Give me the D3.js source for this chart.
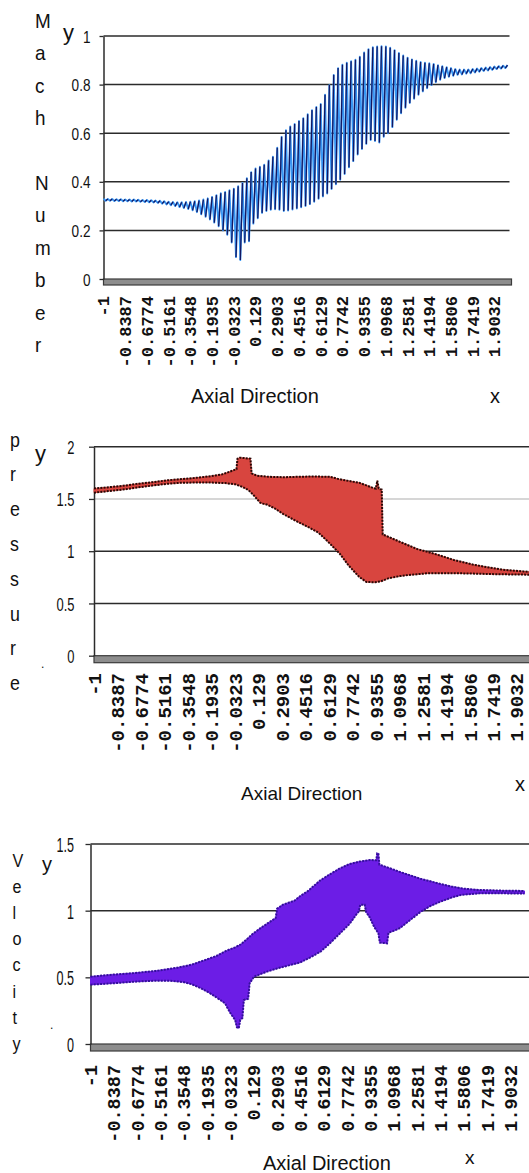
<!DOCTYPE html>
<html>
<head>
<meta charset="utf-8">
<script src="https://cdn.jsdelivr.net/npm/d3@7"></script>
<style>
  html, body { margin: 0; padding: 0; background: #fff; }
  svg { display: block; }
</style>
</head>
<body>
<svg id="chart" width="529" height="1173"></svg>
<script>
// ---------- data ----------
// axial stations: 187 samples from -1 to 2, every 10th one is labelled
const axialFirst = -1;
const axialLast = 2;
const axialCount = 187;
const axialTickLabels = ["-1", "-0.8387", "-0.6774", "-0.5161", "-0.3548", "-0.1935", "-0.0323",
  "0.129", "0.2903", "0.4516", "0.6129", "0.7742", "0.9355", "1.0968", "1.2581", "1.4194",
  "1.5806", "1.7419", "1.9032"];

// Mach number: the solution alternates node to node; peaks sit on even stations, troughs on odd ones
const machPeaks = [
  0.330, 0.329, 0.329, 0.328, 0.328, 0.327, 0.327, 0.327, 0.326, 0.325,
  0.325, 0.324, 0.323, 0.322, 0.320, 0.318, 0.317, 0.316, 0.316, 0.317,
  0.318, 0.320, 0.323, 0.327, 0.332, 0.338, 0.345, 0.353, 0.358, 0.365,
  0.372, 0.382, 0.395, 0.415, 0.440, 0.455, 0.462, 0.470, 0.488, 0.503,
  0.540, 0.585, 0.612, 0.628, 0.638, 0.650, 0.662, 0.678, 0.695, 0.708,
  0.720, 0.758, 0.798, 0.840, 0.868, 0.882, 0.890, 0.896, 0.902, 0.915,
  0.932, 0.946, 0.954, 0.957, 0.958, 0.957, 0.952, 0.942, 0.930, 0.920,
  0.911, 0.904, 0.898, 0.893, 0.890, 0.888, 0.885, 0.880, 0.876, 0.872,
  0.868, 0.864, 0.862, 0.862, 0.862, 0.864, 0.866, 0.868, 0.870, 0.872,
  0.874, 0.876, 0.878, 0.880
];
const machTroughs = [
  0.322, 0.322, 0.321, 0.321, 0.320, 0.320, 0.319, 0.319, 0.318, 0.317,
  0.316, 0.315, 0.313, 0.310, 0.307, 0.304, 0.300, 0.296, 0.292, 0.288,
  0.283, 0.275, 0.266, 0.256, 0.245, 0.232, 0.217, 0.200, 0.182, 0.150,
  0.090, 0.078, 0.150, 0.155, 0.228, 0.250, 0.272, 0.280, 0.285, 0.287,
  0.285, 0.280, 0.282, 0.286, 0.290, 0.295, 0.300, 0.308, 0.318, 0.330,
  0.340, 0.352, 0.370, 0.390, 0.408, 0.432, 0.460, 0.485, 0.512, 0.535,
  0.556, 0.572, 0.568, 0.562, 0.585, 0.600, 0.625, 0.655, 0.682, 0.705,
  0.724, 0.742, 0.758, 0.772, 0.785, 0.798, 0.810, 0.820, 0.827, 0.832,
  0.836, 0.840, 0.842, 0.845, 0.847, 0.850, 0.853, 0.856, 0.858, 0.861,
  0.864, 0.866, 0.868
];

// Pressure: upper and lower edges of the oscillating band, [x, value]
const pressureUpper = [
  [-1.00, 1.600], [-0.90, 1.612], [-0.80, 1.626], [-0.70, 1.645], [-0.60, 1.660],
  [-0.50, 1.678], [-0.40, 1.690], [-0.30, 1.702], [-0.20, 1.718], [-0.12, 1.735],
  [-0.06, 1.765], [-0.022, 1.785], [-0.015, 1.885], [0.00, 1.895], [0.04, 1.890],
  [0.074, 1.885], [0.082, 1.745], [0.12, 1.722], [0.20, 1.712], [0.30, 1.708],
  [0.40, 1.712], [0.50, 1.715], [0.62, 1.712], [0.68, 1.690], [0.75, 1.672],
  [0.82, 1.655], [0.87, 1.630], [0.92, 1.603], [0.935, 1.600], [0.945, 1.675],
  [0.955, 1.600], [0.965, 1.592], [0.975, 1.590], [0.982, 1.160], [1.00, 1.150],
  [1.10, 1.090], [1.22, 1.020], [1.35, 0.970], [1.47, 0.916], [1.60, 0.872],
  [1.68, 0.852], [1.80, 0.824], [1.95, 0.806], [2.00, 0.802]
];
const pressureLower = [
  [-1.00, 1.560], [-0.90, 1.575], [-0.80, 1.590], [-0.70, 1.610], [-0.60, 1.628],
  [-0.50, 1.645], [-0.40, 1.655], [-0.30, 1.657], [-0.20, 1.657], [-0.10, 1.652],
  [-0.03, 1.640], [0.02, 1.615], [0.06, 1.585], [0.09, 1.545], [0.115, 1.505],
  [0.14, 1.465], [0.16, 1.455], [0.19, 1.445], [0.24, 1.410], [0.30, 1.355],
  [0.40, 1.280], [0.48, 1.225], [0.54, 1.178], [0.60, 1.100], [0.685, 0.980],
  [0.75, 0.860], [0.82, 0.755], [0.87, 0.705], [0.93, 0.703], [0.97, 0.712],
  [1.02, 0.740], [1.10, 0.762], [1.16, 0.772], [1.30, 0.790], [1.45, 0.790],
  [1.60, 0.786], [1.75, 0.780], [1.90, 0.777], [2.00, 0.775]
];

// Velocity: upper and lower edges of the oscillating band, [x, value]
const velocityUpper = [
  [-1.00, 0.505], [-0.85, 0.520], [-0.70, 0.532], [-0.55, 0.548], [-0.40, 0.572],
  [-0.30, 0.595], [-0.22, 0.625], [-0.13, 0.660], [-0.06, 0.700], [0.00, 0.725],
  [0.04, 0.748], [0.08, 0.785], [0.12, 0.825], [0.17, 0.865], [0.22, 0.902],
  [0.28, 0.945], [0.29, 1.015], [0.33, 1.045], [0.41, 1.075], [0.45, 1.110],
  [0.50, 1.145], [0.586, 1.225], [0.65, 1.270], [0.72, 1.315], [0.79, 1.350],
  [0.86, 1.368], [0.93, 1.380], [0.975, 1.378], [0.982, 1.430], [0.99, 1.430],
  [0.997, 1.345], [1.07, 1.318], [1.14, 1.290], [1.21, 1.265], [1.28, 1.240],
  [1.35, 1.220], [1.42, 1.200], [1.50, 1.180], [1.58, 1.165], [1.69, 1.155],
  [1.85, 1.150], [2.00, 1.148]
];
const velocityLower = [
  [-1.00, 0.445], [-0.85, 0.455], [-0.70, 0.467], [-0.55, 0.475], [-0.45, 0.474],
  [-0.36, 0.465], [-0.30, 0.448], [-0.24, 0.420], [-0.18, 0.385], [-0.13, 0.350],
  [-0.07, 0.305], [-0.035, 0.235], [0.00, 0.180], [0.012, 0.125], [0.025, 0.118],
  [0.035, 0.180], [0.05, 0.195], [0.06, 0.330], [0.09, 0.340], [0.10, 0.455],
  [0.13, 0.505], [0.22, 0.543], [0.30, 0.570], [0.38, 0.592], [0.45, 0.612],
  [0.52, 0.650], [0.59, 0.693], [0.65, 0.750], [0.72, 0.825], [0.79, 0.900],
  [0.84, 0.975], [0.855, 0.995], [0.865, 1.045], [0.895, 1.045], [0.905, 0.990],
  [0.93, 0.950], [0.96, 0.880], [0.99, 0.830], [1.00, 0.760], [1.05, 0.755],
  [1.06, 0.835], [1.10, 0.850], [1.14, 0.870], [1.21, 0.930], [1.28, 0.990],
  [1.35, 1.035], [1.42, 1.068], [1.50, 1.100], [1.56, 1.118], [1.69, 1.130],
  [1.85, 1.130], [2.00, 1.128]
];

const machTicks = [0, 0.2, 0.4, 0.6, 0.8, 1];
const pressureTicks = [0, 0.5, 1, 1.5, 2];
const velocityTicks = [0, 0.5, 1, 1.5];

// ---------- layout ----------
const svg = d3.select("#chart");
const axialTickValues = axialTickLabels.map(Number);
const axialStations = d3.range(axialCount).map(i => axialFirst + i * (axialLast - axialFirst) / (axialCount - 1));

const panels = {
  mach: {
    xRange: [103.5, 507.5], gridRight: 509.5, yRange: [279, 36], domain: [0, 1],
    ticks: machTicks, floorH: 6, tickLen: 4, labelRight: 90.5, labelScale: 0.8, labelSize: 17,
    xLabelTop: 296, xLabelSize: 17
  },
  pressure: {
    xRange: [94, 531], gridRight: 529, yRange: [655.7, 446.7], domain: [0, 2],
    ticks: pressureTicks, floorH: 7, tickLen: 5, labelRight: 74.5, labelScale: 0.7, labelSize: 18.5,
    xLabelTop: 673, xLabelSize: 19, softTick: 1.5
  },
  velocity: {
    xRange: [90.5, 524.5], gridRight: 529, yRange: [1044, 844], domain: [0, 1.5],
    ticks: velocityTicks, floorH: 7, tickLen: 5, labelRight: 74, labelScale: 0.6, labelSize: 21,
    xLabelTop: 1065, xLabelSize: 18.5
  }
};

function drawFrame(p) {
  const x = d3.scaleLinear().domain([axialFirst, axialLast]).range(p.xRange);
  const y = d3.scaleLinear().domain(p.domain).range(p.yRange);
  const left = p.xRange[0];
  const g = svg.append("g");

  // horizontal gridlines
  g.selectAll("line.grid").data(p.ticks.filter(t => t > 0)).join("line")
    .attr("x1", left).attr("x2", p.gridRight)
    .attr("y1", d => y(d)).attr("y2", d => y(d))
    .attr("stroke", d => d === p.softTick ? "#c9c9c9" : "#2b2b2b")
    .attr("stroke-width", 1.5);

  // grey floor along the category axis
  g.append("rect")
    .attr("x", left).attr("y", y(0))
    .attr("width", p.gridRight - left + 2).attr("height", p.floorH)
    .attr("fill", "#8d8d8d").attr("stroke", "#3b3b3b").attr("stroke-width", 1.2);

  // value axis
  const yAxis = d3.axisLeft(y).tickValues(p.ticks).tickSize(p.tickLen).tickSizeOuter(0)
    .tickFormat(d => String(d));
  const ya = g.append("g").attr("transform", `translate(${left},0)`).call(yAxis);
  ya.select(".domain").attr("stroke", "#2b2b2b").attr("stroke-width", 1.5);
  ya.selectAll(".tick line").attr("stroke", "#2b2b2b").attr("stroke-width", 1.3);
  ya.selectAll(".tick text")
    .attr("x", 0).attr("dy", null)
    .attr("transform", `translate(${p.labelRight - left},${0.36 * p.labelSize}) scale(${p.labelScale},1)`)
    .attr("text-anchor", "end")
    .style("font-family", "'Liberation Sans', Arial, sans-serif")
    .style("font-size", p.labelSize + "px")
    .attr("fill", "#111");

  // category axis labels, rotated
  const xAxis = d3.axisBottom(x).tickValues(axialTickValues).tickSize(0)
    .tickFormat((d, i) => axialTickLabels[i]);
  const xa = g.append("g").attr("transform", `translate(0,${p.xLabelTop})`).call(xAxis);
  xa.select(".domain").remove();
  xa.selectAll(".tick text")
    .attr("x", 0).attr("y", 0).attr("dy", "0.32em")
    .attr("transform", "rotate(-90)")
    .attr("text-anchor", "end")
    .style("font-family", "'Liberation Mono', 'Courier New', monospace")
    .style("font-weight", "bold")
    .style("font-size", p.xLabelSize + "px")
    .attr("fill", "#111");

  return { x, y, g };
}

// ---------- Mach number ----------
{
  const { x, y, g } = drawFrame(panels.mach);
  const pts = axialStations.map((s, i) => [s, i % 2 === 0 ? machPeaks[i / 2] : machTroughs[(i - 1) / 2]]);
  const line = d3.line().x(d => x(d[0])).y(d => y(d[1]));
  // whole trace in bright blue
  g.append("path").attr("d", line(pts))
    .attr("fill", "none").attr("stroke", "#3896f4").attr("stroke-width", 1.9)
    .attr("stroke-linejoin", "round");
  // rising strokes in dark navy
  const rising = [];
  for (let i = 1; i + 1 < pts.length; i += 2) rising.push(line([pts[i], pts[i + 1]]));
  g.append("path").attr("d", rising.join(""))
    .attr("fill", "none").attr("stroke", "#131762").attr("stroke-width", 1.3);
}

// ---------- band charts ----------
function drawBand(p, upper, lower, fill, edge) {
  const { x, y, g } = drawFrame(p);
  const line = d3.line().x(d => x(d[0])).y(d => y(d[1]));
  const outline = upper.concat(lower.slice().reverse());
  g.append("path").attr("d", line(outline) + "Z").attr("fill", fill).attr("stroke", fill).attr("stroke-width", 1);
  [upper, lower].forEach(edgePts => {
    g.append("path").attr("d", line(edgePts))
      .attr("fill", "none").attr("stroke", edge).attr("stroke-width", 2)
      .attr("stroke-dasharray", "2 1.2");
  });
}
drawBand(panels.pressure, pressureUpper, pressureLower, "#d8453f", "#2a0806");
drawBand(panels.velocity, velocityUpper, velocityLower, "#6c1de6", "#34109a");

// ---------- titles ----------
const titleFont = "'Liberation Sans', Arial, sans-serif";
function stackedTitle(word, x0, y0, step, size, sx) {
  svg.append("g").selectAll("text").data(word.split("")).join("text")
    .attr("transform", (d, i) => `translate(${x0},${y0 + i * step}) scale(${sx},1)`)
    .text(d => d)
    .style("font-family", titleFont).style("font-size", size + "px").attr("fill", "#111");
}
function plainText(str, x0, y0, size) {
  svg.append("text").attr("x", x0).attr("y", y0).text(str)
    .style("font-family", titleFont).style("font-size", size + "px").attr("fill", "#111");
}

stackedTitle("Mach Number", 35, 28, 32.4, 21, 0.9);
plainText("y", 63, 40, 22);
plainText("Axial Direction", 191, 403, 20);
plainText("x", 490, 403, 20);

stackedTitle("pressure", 10, 446.5, 34.8, 21, 0.85);
plainText(".", 41, 668, 12);
plainText("y", 35, 461, 22);
plainText("Axial Direction", 241, 800, 19);
plainText("x", 515, 791, 20);

stackedTitle("Velocity", 12.5, 866.5, 26.2, 19, 0.85);
plainText(".", 50, 1029, 12);
plainText("y", 42, 871, 20);
plainText("Axial Direction", 263, 1170, 20);
plainText("x", 465, 1164, 19);
</script>
</body>
</html>
